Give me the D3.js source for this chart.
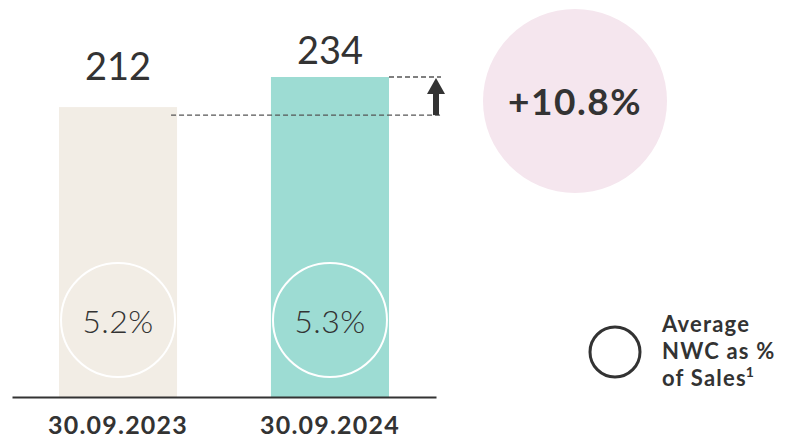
<!DOCTYPE html>
<html>
<head>
<meta charset="utf-8">
<script src="https://cdn.jsdelivr.net/npm/d3@7"></script>
<style>
  html, body { margin: 0; padding: 0; background: #fff; }
  svg { display: block; }
  text { font-family: Lato, "Open Sans", sans-serif; fill: #333; }
</style>
</head>
<body>
<svg id="chart" width="787" height="438"></svg>
<script>
// ---- data ----
const categories = ["30.09.2023", "30.09.2024"];
const nwcValues = [212, 234];
const nwcPctOfSales = ["5.2%", "5.3%"];
const changeLabel = "+10.8%";
const legendLines = ["Average", "NWC as %", "of Sales"];
const legendFootnote = "1";

// ---- layout ----
const W = 787, H = 438;
const baseY = 397;
const barColors = ["#f2ede5", "#9ddcd3"];
const labelGap = [27, 13];

const svg = d3.select("#chart");

const x = d3.scaleBand()
  .domain(categories)
  .range([12, 436])
  .paddingInner(0.443)
  .paddingOuter(0.2217);

const y = d3.scaleLinear()
  .domain([0, 234])
  .range([baseY, 77]);

const data = categories.map((c, i) => ({ c, v: nwcValues[i], p: nwcPctOfSales[i], i }));

// bars
svg.selectAll("rect.bar").data(data).join("rect")
  .attr("class", "bar")
  .attr("x", d => x(d.c))
  .attr("y", d => y(d.v))
  .attr("width", x.bandwidth())
  .attr("height", d => baseY - y(d.v))
  .attr("fill", d => barColors[d.i]);

// value labels
svg.selectAll("text.val").data(data).join("text")
  .attr("class", "val")
  .attr("x", d => x(d.c) + x.bandwidth() / 2)
  .attr("y", d => y(d.v) - labelGap[d.i])
  .attr("text-anchor", "middle")
  .attr("font-size", 38)
  .attr("font-weight", 400)
  .text(d => d.v);

// inner circles
svg.selectAll("circle.pct").data(data).join("circle")
  .attr("class", "pct")
  .attr("cx", d => x(d.c) + x.bandwidth() / 2)
  .attr("cy", 320)
  .attr("r", 57)
  .attr("fill", "none")
  .attr("stroke", "#fff")
  .attr("stroke-width", 2);

svg.selectAll("text.pct").data(data).join("text")
  .attr("class", "pct")
  .attr("x", d => x(d.c) + x.bandwidth() / 2)
  .attr("y", 333)
  .attr("text-anchor", "middle")
  .attr("font-size", 32)
  .attr("font-weight", 300)
  .attr("letter-spacing", 0.5)
  .text(d => d.p);

// axis baseline
const axis = d3.axisBottom(x).tickSize(0).tickPadding(12);
const gAxis = svg.append("g").attr("transform", `translate(0,${baseY})`).call(axis);
gAxis.select(".domain").attr("stroke", "#333").attr("stroke-width", 2.2);
gAxis.selectAll(".tick text")
  .attr("font-family", "Lato, sans-serif")
  .attr("font-size", 25)
  .attr("font-weight", 700)
  .attr("letter-spacing", 1.2)
  .attr("fill", "#333")
  .attr("dy", "0")
  .attr("y", 37);

// dashed reference lines
const xArrow = 436;
const yTop = y(nwcValues[1]);
const yLow = y(nwcValues[0]) + 8;
svg.append("line")
  .attr("x1", x(categories[1]) + x.bandwidth()).attr("x2", xArrow + 5)
  .attr("y1", yTop).attr("y2", yTop)
  .attr("stroke", "#555").attr("stroke-width", 1.3).attr("stroke-dasharray", "5,3");
svg.append("line")
  .attr("x1", x(categories[0]) + x.bandwidth() - 6).attr("x2", xArrow + 5)
  .attr("y1", yLow).attr("y2", yLow)
  .attr("stroke", "#555").attr("stroke-width", 1.3).attr("stroke-dasharray", "5,3");

// arrow
svg.append("rect")
  .attr("x", xArrow - 3).attr("y", yTop + 14)
  .attr("width", 6).attr("height", yLow - yTop - 14)
  .attr("fill", "#333");
svg.append("path")
  .attr("d", `M${xArrow},${yTop + 1} L${xArrow + 9},${yTop + 17} L${xArrow - 9},${yTop + 17} Z`)
  .attr("fill", "#333");

// change bubble
svg.append("circle")
  .attr("cx", 575).attr("cy", 101).attr("r", 92)
  .attr("fill", "#f5e6ee");
svg.append("text")
  .attr("x", 575).attr("y", 115)
  .attr("text-anchor", "middle")
  .attr("font-size", 37)
  .attr("font-weight", 700)
  .attr("letter-spacing", 1.5)
  .text(changeLabel);

// legend
svg.append("circle")
  .attr("cx", 615).attr("cy", 352).attr("r", 25)
  .attr("fill", "none").attr("stroke", "#333").attr("stroke-width", 3);
const lg = svg.append("text")
  .attr("x", 662).attr("y", 332)
  .attr("font-size", 22)
  .attr("font-weight", 700)
  .attr("letter-spacing", 1.2);
legendLines.forEach((t, i) => {
  lg.append("tspan").attr("x", 662).attr("y", 332 + i * 27).text(t);
});
lg.append("tspan").attr("font-size", 14).attr("dy", -9).attr("dx", -1).attr("letter-spacing", 0).text(legendFootnote);
</script>
</body>
</html>
